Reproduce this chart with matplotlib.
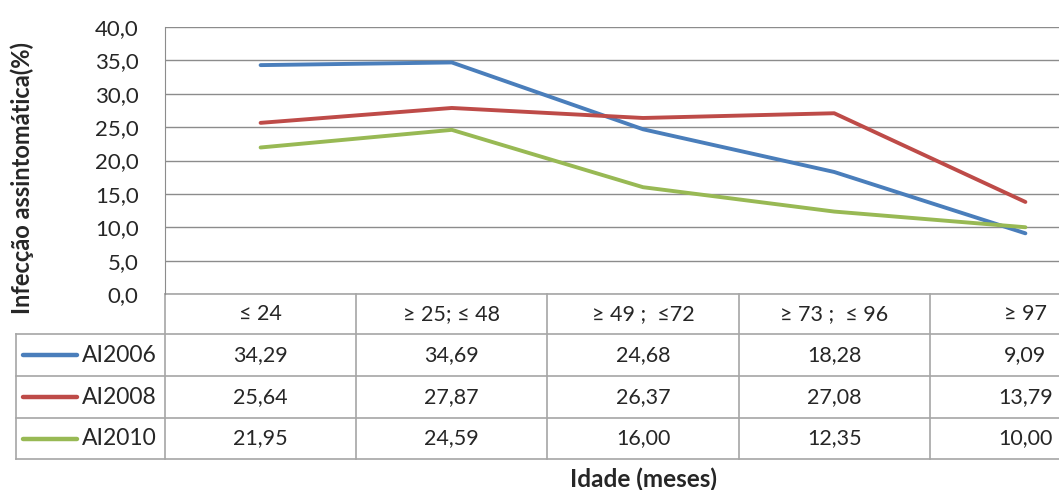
import matplotlib
matplotlib.use('Agg')
import matplotlib.pyplot as plt
from matplotlib.transforms import blended_transform_factory
from matplotlib.ticker import FuncFormatter

plt.rcParams['font.family'] = ['Lato', 'DejaVu Sans']

# --- Data ---
categories = ['≤ 24', '≥ 25; ≤ 48', '≥ 49 ;  ≤72', '≥ 73 ;  ≤ 96', '≥ 97']
series_names = ['AI2006', 'AI2008', 'AI2010']
ai2006 = [34.29, 34.69, 24.68, 18.28, 9.09]
ai2008 = [25.64, 27.87, 26.37, 27.08, 13.79]
ai2010 = [21.95, 24.59, 16.00, 12.35, 10.00]
colors = ['#4A7EBB', '#BE4B48', '#98B954']
y_ticks = [0, 5, 10, 15, 20, 25, 30, 35, 40]

W, H = 1059, 490
fig = plt.figure(figsize=(W / 100, H / 100), dpi=100)

# plot area in pixels (the last column runs past the right edge, like the source)
left_px, right_px, top_px, bottom_px = 165, 1121, 27, 294
ax = fig.add_axes([left_px / W, 1 - bottom_px / H,
                   (right_px - left_px) / W, (bottom_px - top_px) / H])

x = list(range(len(categories)))
for vals, c in zip([ai2006, ai2008, ai2010], colors):
    ax.plot(x, vals, color=c, lw=2.8, solid_capstyle='round', clip_on=False, zorder=3)

grid_col = '#8C8C8C'
ax.set_xlim(-0.5, len(categories) - 0.5)
ax.set_ylim(0, 40)
ax.set_yticks(y_ticks)
ax.yaxis.set_major_formatter(FuncFormatter(lambda v, p: f'{v:.1f}'.replace('.', ',')))
ax.tick_params(axis='y', length=0, pad=19, labelsize=16, labelcolor='#262626')
ax.set_xticks([])
ax.grid(axis='y', color=grid_col, lw=1)
for s in ['top', 'right', 'bottom']:
    ax.spines[s].set_visible(False)
ax.spines['left'].set_color(grid_col)

# --- Data table below the plot ---
tr = blended_transform_factory(ax.transData, ax.transAxes)
ph = bottom_px - top_px
row_edges_px = [294, 334, 376, 418, 459]
row_y = [(bottom_px - r) / ph for r in row_edges_px]
leg_left = -0.5 - (left_px - 16) / ((right_px - left_px) / len(categories))
tab_col = '#A6A6A6'

def hline(x0, x1, y):
    ax.plot([x0, x1], [y, y], color=tab_col, lw=1.2, transform=tr, clip_on=False)

def vline(xv, y0, y1):
    ax.plot([xv, xv], [y0, y1], color=tab_col, lw=1.2, transform=tr, clip_on=False)

hline(-0.5, len(categories) - 0.5, row_y[0])
for yy in row_y[1:]:
    hline(leg_left, len(categories) - 0.5, yy)
vline(leg_left, row_y[1], row_y[-1])
for k in range(len(categories) + 1):
    vline(k - 0.5, row_y[0], row_y[-1])

txt_col = '#262626'
for i, cat in enumerate(categories):
    ax.text(i, (row_y[0] + row_y[1]) / 2, cat, transform=tr, ha='center', va='center',
            fontsize=15.5, color=txt_col, clip_on=False)

for r, (name, vals, c) in enumerate(zip(series_names, [ai2006, ai2008, ai2010], colors)):
    yc = (row_y[r + 1] + row_y[r + 2]) / 2
    for i, v in enumerate(vals):
        ax.text(i, yc, f'{v:.2f}'.replace('.', ','), transform=tr, ha='center', va='center',
                fontsize=15.5, color=txt_col, clip_on=False)
    # legend key + series name
    fy = 1 - (bottom_px - yc * ph) / H
    fig.lines.append(plt.Line2D([23 / W, 77 / W], [fy, fy], color=c, lw=3.2,
                                solid_capstyle='round', transform=fig.transFigure))
    fig.text(157 / W, fy, name, ha='right', va='center', fontsize=16.5, color=txt_col)

# axis titles
fig.text(22 / W, 1 - 178 / H, 'Infecção assintomática(%)', rotation=90, ha='center',
         va='center', fontsize=17, fontweight='bold', color=txt_col)
fig.text(643 / W, 1 - 468 / H, 'Idade (meses)', ha='center', va='top',
         fontsize=17.5, fontweight='bold', color=txt_col)

fig.savefig('out.png', dpi=100)
